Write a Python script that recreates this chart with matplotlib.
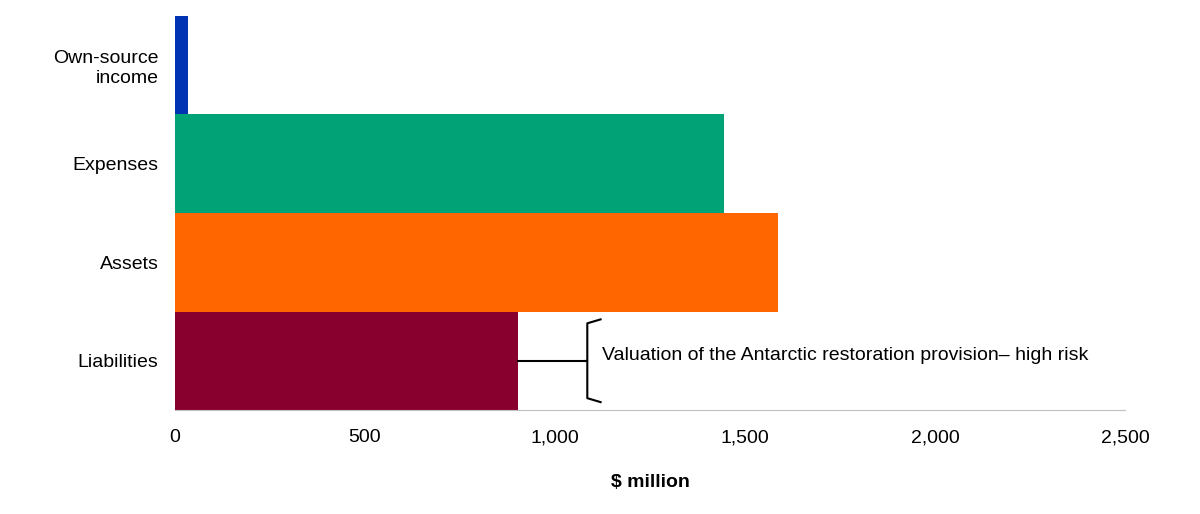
import matplotlib.pyplot as plt

categories = ['Own-source\nincome', 'Expenses', 'Assets', 'Liabilities']
values = [34, 1445, 1587, 903]
colors = ['#0033b4', '#00a276', '#ff6600', '#88002e']
xticks = [0, 500, 1000, 1500, 2000, 2500]
note = 'Valuation of the Antarctic restoration provision\u2013 high risk'

plt.rcParams['font.family'] = 'Liberation Sans'

fig = plt.figure(figsize=(12, 5.14), dpi=100)
ax = fig.add_axes([175 / 1200, 104 / 514, 950 / 1200, 394 / 514])

y = list(range(len(categories)))[::-1]
ax.barh(y, values, height=1.0, color=colors)
ax.set_ylim(-0.5, 3.5)
ax.set_xlim(0, 2500)
ax.set_yticks(y)
ax.set_yticklabels(categories, fontsize=14)
ax.set_xticks(xticks)
ax.set_xticklabels(['{:,}'.format(v) for v in xticks], fontsize=14)
ax.tick_params(axis='both', length=0, pad=12)
ax.tick_params(axis='x', pad=14)
for s in ['top', 'right', 'left']:
    ax.spines[s].set_visible(False)
ax.spines['bottom'].set_color('#c0c0c0')
ax.set_xlabel('$ million', fontsize=14, fontweight='bold', labelpad=20)

# bracket annotation for liabilities
ly = y[3]
ax.plot([values[3], 1080], [ly, ly], color='black', lw=1.5)
ax.plot([1120, 1085, 1085, 1120], [ly + 0.42, ly + 0.38, ly - 0.38, ly - 0.42],
        color='black', lw=1.5)
ax.plot([1080, 1085], [ly, ly], color='black', lw=1.5)
ax.text(1125, ly + 0.05, note, fontsize=14, va='center', ha='left')

fig.savefig('out.png', dpi=100)
